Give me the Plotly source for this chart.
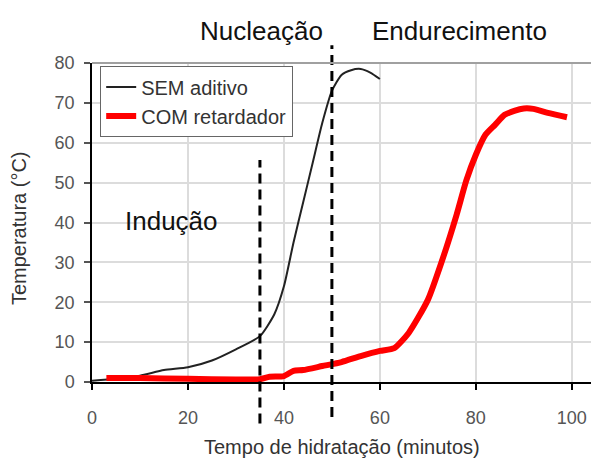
import plotly.graph_objects as go

# Hydration time (minutes) and temperature (°C) for each mix
sem_x = [0, 5, 10, 15, 20, 25, 30, 35, 38, 40, 42, 44, 46, 48, 50, 52, 54, 56, 58, 60]
sem_y = [0.3, 0.8, 1.6, 3.0, 3.7, 5.4, 8.2, 11.5, 17, 24, 35, 45, 55, 65, 73, 77, 78.2, 78.5, 77.6, 76]

com_x = [3, 10, 20, 30, 35, 37, 40, 42, 44, 48, 52, 56, 60, 63, 66, 70, 73, 76, 78, 80,
         82, 84, 86, 88, 90, 92, 95, 99]
com_y = [1.0, 1.0, 0.8, 0.6, 0.7, 1.3, 1.5, 2.8, 3.0, 4.0, 5.0, 6.5, 7.8, 8.5, 12.3, 20.6,
         30.6, 42, 50.5, 57, 62, 64.5, 67, 68, 68.6, 68.5, 67.5, 66.4]

series_names = ["SEM aditivo", "COM retardador"]

# Phase boundaries (minutes)
inducao_fim = 35
nucleacao_fim = 50

x_ticks = [0, 20, 40, 60, 80, 100]
y_ticks = [0, 10, 20, 30, 40, 50, 60, 70, 80]

FONT = "Arial, Liberation Sans, sans-serif"

fig = go.Figure()
fig.add_trace(go.Scatter(
    x=sem_x, y=sem_y, mode="lines", name=series_names[0],
    line=dict(color="#222222", width=2, shape="spline", smoothing=0.6),
))
fig.add_trace(go.Scatter(
    x=com_x, y=com_y, mode="lines", name=series_names[1],
    line=dict(color="#ff0000", width=6, shape="spline", smoothing=0.6),
))

# dashed phase separators, running past the plot frame
dash = "10px,6px"
fig.add_shape(type="line", xref="x", yref="paper", x0=inducao_fim, x1=inducao_fim,
              y0=-0.13, y1=0.696, line=dict(color="black", width=3, dash=dash), layer="above")
fig.add_shape(type="line", xref="x", yref="paper", x0=nucleacao_fim, x1=nucleacao_fim,
              y0=-0.11, y1=1.056, line=dict(color="black", width=3, dash=dash), layer="above")
# top frame line
fig.add_shape(type="line", xref="paper", yref="paper", x0=0, x1=1, y0=1, y1=1,
              line=dict(color="#a0a0a0", width=2))

phase_font = dict(family=FONT, size=26, color="#111111")
fig.add_annotation(text="Nucleação", x=35.4, xref="x", y=1.1, yref="paper",
                   xanchor="center", yanchor="middle", showarrow=False, font=phase_font)
fig.add_annotation(text="Endurecimento", x=76.5, xref="x", y=1.1, yref="paper",
                   xanchor="center", yanchor="middle", showarrow=False, font=phase_font)
fig.add_annotation(text="Indução", x=16.6, xref="x", y=40.5, yref="y",
                   xanchor="center", yanchor="middle", showarrow=False, font=phase_font)

axis_font = dict(family=FONT, size=20, color="#333333")
fig.add_annotation(text="Tempo de hidratação (minutos)", x=0.501, xref="paper",
                   y=-0.205, yref="paper", xanchor="center", yanchor="middle",
                   showarrow=False, font=axis_font)
fig.add_annotation(text="Temperatura (°C)", x=-0.146, xref="paper",
                   y=0.483, yref="paper", xanchor="center", yanchor="middle",
                   showarrow=False, font=axis_font, textangle=-90)

tick_font = dict(family=FONT, size=18, color="#555555")
fig.update_xaxes(
    range=[0, 104], tickvals=x_ticks, tickfont=tick_font, ticklabelstandoff=12,
    showgrid=True, gridcolor="#dcdcdc", gridwidth=1.5,
    showline=True, linecolor="black", linewidth=2,
    ticks="outside", ticklen=6, tickcolor="black", tickwidth=1.5,
    zeroline=False,
)
fig.update_yaxes(
    range=[0, 80], tickvals=y_ticks, tickfont=tick_font, ticklabelstandoff=6,
    showgrid=True, gridcolor="#dcdcdc", gridwidth=1.5,
    showline=True, linecolor="black", linewidth=1.5,
    ticks="outside", ticklen=6, tickcolor="#555555", tickwidth=1.5,
    zeroline=False,
)

fig.update_layout(
    width=591, height=461,
    margin=dict(l=92, r=0, t=63, b=79),
    paper_bgcolor="white", plot_bgcolor="white",
    showlegend=True,
    legend=dict(
        x=0.016, y=0.99, xanchor="left", yanchor="top",
        bgcolor="white", bordercolor="#666666", borderwidth=1.2,
        font=dict(family=FONT, size=20, color="#333333"),
        tracegroupgap=0, itemwidth=30,
    ),
)

fig.write_html("out.html")
